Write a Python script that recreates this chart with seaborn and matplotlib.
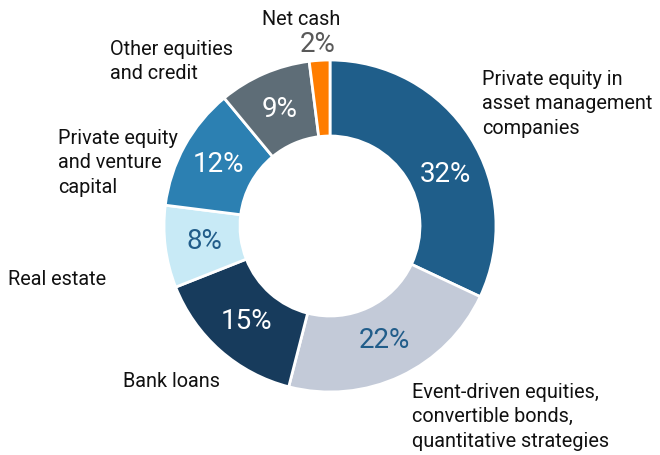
import matplotlib
matplotlib.use("Agg")
import matplotlib.pyplot as plt
import seaborn as sns
import numpy as np

# Portfolio breakdown (clockwise from top)
categories = [
    "Private equity in\nasset management\ncompanies",
    "Event-driven equities,\nconvertible bonds,\nquantitative strategies",
    "Bank loans",
    "Real estate",
    "Private equity\nand venture\ncapital",
    "Other equities\nand credit",
    "Net cash",
]
shares = [32, 22, 15, 8, 12, 9, 2]
colors = ["#1f5e8a", "#c3cad8", "#173b5c", "#c8eaf6", "#2c80b2", "#5e6d77", "#ff7d00"]
pct_colors = ["white", "#215d8a", "white", "#215d8a", "white", "white", "#595959"]

# where the category labels sit (pixel coords, left x, top y, alignment)
label_pos = [
    (482, 70, "left"),
    (412, 383, "left"),
    (220, 372, "right"),
    (8, 270, "left"),
    (58, 129, "left"),
    (110, 40, "left"),
    (262, 10, "left"),
]
# a few percent labels are not on the slice mid line
pct_override = {0: (445, 174), 6: (318, 44)}

sns.set_style("white")
plt.rcParams["font.family"] = ["Roboto", "DejaVu Sans"]

W, H = 660, 455
fig = plt.figure(figsize=(W / 100, H / 100), dpi=100)
ax = fig.add_axes([0, 0, 1, 1])

cx, cy, R = 330, 226, 166
# y axis is inverted, so counterclock=True draws clockwise on screen
wedges, _ = ax.pie(
    shares, colors=colors, startangle=-90, counterclock=True,
    center=(cx, cy), radius=R, frame=True,
    wedgeprops=dict(width=76, edgecolor="white", linewidth=2),
)
ax.set_xlim(0, W)
ax.set_ylim(H, 0)
ax.set_aspect("equal")
ax.axis("off")

start = -90.0
for i, v in enumerate(shares):
    ang = np.deg2rad(start + v * 3.6 / 2)
    start += v * 3.6
    if i in pct_override:
        x, y = pct_override[i]
    else:
        x = cx + 127 * np.cos(ang)
        y = cy + 127 * np.sin(ang)
    ax.text(x, y, f"{v}%", ha="center", va="center", fontsize=20,
            color=pct_colors[i])

for lab, (x, y, ha) in zip(categories, label_pos):
    ax.text(x, y, lab, ha=ha, va="top", fontsize=14.3, color="#111111",
            linespacing=1.36)

fig.savefig("out.png", dpi=100)
